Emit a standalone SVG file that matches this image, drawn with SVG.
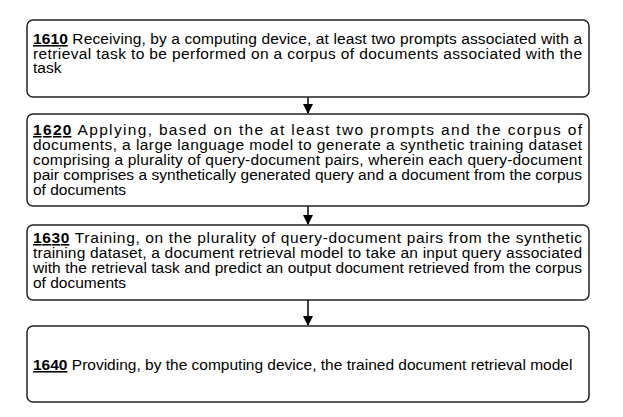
<svg xmlns="http://www.w3.org/2000/svg" width="623" height="417" viewBox="0 0 623 417">
<defs>
<style>
.box{fill:#fff;stroke:#222;stroke-width:1.5}
.t{font-family:"Liberation Sans",Arial,sans-serif;font-size:15.5px;fill:#000}
.n{font-weight:bold;text-decoration:underline}
.c{stroke:#000;stroke-width:1.5;fill:none}
</style>
<marker id="ah" markerWidth="10" markerHeight="12" refX="9" refY="5" orient="auto" markerUnits="userSpaceOnUse">
<path d="M0,0 L10,5 L0,10 Z" fill="#000"/>
</marker>
</defs>
<rect width="623" height="417" fill="#fff"/>
<g id="connectors">
<line class="c" x1="308" y1="97" x2="308" y2="113" marker-end="url(#ah)"/>
<line class="c" x1="308" y1="206" x2="308" y2="224" marker-end="url(#ah)"/>
<line class="c" x1="308" y1="300" x2="308" y2="325" marker-end="url(#ah)"/>
</g>
<g id="n1610">
<rect class="box" x="27" y="20" width="562" height="77" rx="6"/>
<text class="t" x="33" y="44" textLength="549" lengthAdjust="spacing"><tspan class="n">1610</tspan> Receiving, by a computing device, at least two prompts associated with a</text>
<text class="t" x="33" y="58.5" textLength="549" lengthAdjust="spacing">retrieval task to be performed on a corpus of documents associated with the</text>
<text class="t" x="33" y="73">task</text>
</g>
<g id="n1620">
<rect class="box" x="27" y="114" width="562" height="92" rx="6"/>
<text class="t" x="33" y="135" textLength="549" lengthAdjust="spacing"><tspan class="n">1620</tspan> Applying, based on the at least two prompts and the corpus of</text>
<text class="t" x="33" y="150" textLength="549" lengthAdjust="spacing">documents, a large language model to generate a synthetic training dataset</text>
<text class="t" x="33" y="165" textLength="549" lengthAdjust="spacing">comprising a plurality of query-document pairs, wherein each query-document</text>
<text class="t" x="33" y="180" textLength="549" lengthAdjust="spacing">pair comprises a synthetically generated query and a document from the corpus</text>
<text class="t" x="33" y="195">of documents</text>
</g>
<g id="n1630">
<rect class="box" x="27" y="225" width="562" height="75" rx="6"/>
<text class="t" x="33" y="243" textLength="549" lengthAdjust="spacing"><tspan class="n">1630</tspan> Training, on the plurality of query-document pairs from the synthetic</text>
<text class="t" x="33" y="258" textLength="549" lengthAdjust="spacing">training dataset, a document retrieval model to take an input query associated</text>
<text class="t" x="33" y="273" textLength="549" lengthAdjust="spacing">with the retrieval task and predict an output document retrieved from the corpus</text>
<text class="t" x="33" y="288">of documents</text>
</g>
<g id="n1640">
<rect class="box" x="27" y="326" width="562" height="76" rx="6"/>
<text class="t" x="33" y="370"><tspan class="n">1640</tspan> Providing, by the computing device, the trained document retrieval model</text>
</g>
</svg>
